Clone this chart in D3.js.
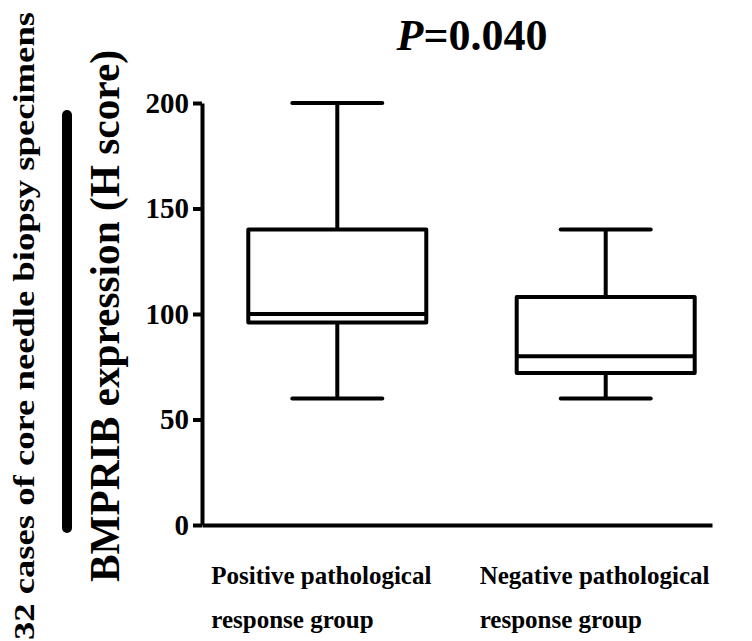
<!DOCTYPE html>
<html>
<head>
<meta charset="utf-8">
<script src="https://cdn.jsdelivr.net/npm/d3@7"></script>
<style>
  body { margin: 0; background: #fff; }
  svg { display: block; }
</style>
</head>
<body>
<div id="chart"></div>
<script>
// data: box plot summary per group (H score)
var groups = ['Positive', 'Negative'];
var groupLines = [
  ['Positive pathological', 'response group'],
  ['Negative pathological', 'response group']
];
var mins = [60, 60];
var q1s = [96, 72];
var medians = [100, 80];
var q3s = [140, 108];
var maxs = [200, 140];
var yTicks = [0, 50, 100, 150, 200];
var title = '0.040';

var W = 752, H = 641;
var font = '"Times New Roman", "Liberation Serif", serif';

// plot area
var plotL = 202, plotR = 712, plotT = 103, plotB = 525;
var boxHalf = 89, capHalf = 45;

var svg = d3
  .select('#chart')
  .append('svg')
  .attr('width', W)
  .attr('height', H);

// scales
var y = d3.scaleLinear().domain([0, 200]).range([plotB, plotT]);
var x = d3
  .scalePoint()
  .domain(groups)
  .range([plotL, plotR])
  .padding(0.45)
  .align(0.56);

// axis: y
var gy = svg
  .append('g')
  .attr('transform', 'translate(' + plotL + ',0)')
  .call(
    d3.axisLeft(y).tickValues(yTicks).tickSize(9).tickSizeOuter(0).tickPadding(4)
  );
gy.select('.domain').attr('stroke', '#000').attr('stroke-width', 4);
gy.selectAll('.tick line').attr('stroke', '#000').attr('stroke-width', 4);
gy.selectAll('.tick text')
  .attr('fill', '#000')
  .style('font-family', font)
  .style('font-weight', 'bold')
  .style('font-size', '29px');

// axis: x (line only)
var gx = svg
  .append('g')
  .attr('transform', 'translate(0,' + plotB + ')')
  .call(d3.axisBottom(x).tickSize(0).tickSizeOuter(0).tickFormat(''));
gx.select('.domain').attr('stroke', '#000').attr('stroke-width', 4);

// boxes
var gb = svg.append('g').attr('stroke', '#000').attr('stroke-width', 4).attr('fill', 'none');
groups.forEach(function (g, i) {
  var cx = x(g);
  // whisker: top
  gb.append('line')
    .attr('x1', cx).attr('x2', cx)
    .attr('y1', y(q3s[i])).attr('y2', y(maxs[i]));
  gb.append('line')
    .attr('x1', cx - capHalf).attr('x2', cx + capHalf)
    .attr('y1', y(maxs[i])).attr('y2', y(maxs[i]))
    .attr('stroke-linecap', 'round');
  // whisker: bottom
  gb.append('line')
    .attr('x1', cx).attr('x2', cx)
    .attr('y1', y(q1s[i])).attr('y2', y(mins[i]));
  gb.append('line')
    .attr('x1', cx - capHalf).attr('x2', cx + capHalf)
    .attr('y1', y(mins[i])).attr('y2', y(mins[i]))
    .attr('stroke-linecap', 'round');
  // box
  gb.append('rect')
    .attr('x', cx - boxHalf)
    .attr('y', y(q3s[i]))
    .attr('width', boxHalf * 2)
    .attr('height', y(q1s[i]) - y(q3s[i]))
    .attr('fill', '#fff')
    .attr('stroke-linejoin', 'round');
  // median
  gb.append('line')
    .attr('x1', cx - boxHalf).attr('x2', cx + boxHalf)
    .attr('y1', y(medians[i])).attr('y2', y(medians[i]));
});

// category labels
groups.forEach(function (g, i) {
  var t = svg
    .append('text')
    .attr('x', x(g) - 126)
    .attr('y', 584)
    .style('font-family', font)
    .style('font-weight', 'bold')
    .style('font-size', '25px');
  groupLines[i].forEach(function (s, k) {
    t.append('tspan')
      .attr('x', x(g) - 126)
      .attr('y', 584 + k * 44)
      .text(s);
  });
});

// title
var tt = svg
  .append('text')
  .attr('x', 472)
  .attr('y', 50)
  .attr('text-anchor', 'middle')
  .style('font-family', font)
  .style('font-weight', 'bold')
  .style('font-size', '44px');
tt.append('tspan').style('font-style', 'italic').text('P');
tt.append('tspan').text('=' + title);

// y labels (rotated)
svg.append('text')
  .attr('transform', 'translate(34,326) rotate(-90)')
  .attr('text-anchor', 'middle')
  .attr('textLength', 628)
  .attr('lengthAdjust', 'spacingAndGlyphs')
  .style('font-family', font)
  .style('font-weight', 'bold')
  .style('font-size', '29px')
  .text('32 cases of core needle biopsy specimens');

svg.append('line')
  .attr('x1', 67).attr('x2', 67)
  .attr('y1', 115).attr('y2', 528)
  .attr('stroke', '#000')
  .attr('stroke-width', 10)
  .attr('stroke-linecap', 'round');

svg.append('text')
  .attr('transform', 'translate(119,316) rotate(-90)')
  .attr('text-anchor', 'middle')
  .attr('textLength', 532)
  .attr('lengthAdjust', 'spacingAndGlyphs')
  .style('font-family', font)
  .style('font-weight', 'bold')
  .style('font-size', '42px')
  .text('BMPRIB expression (H score)');
</script>
</body>
</html>
